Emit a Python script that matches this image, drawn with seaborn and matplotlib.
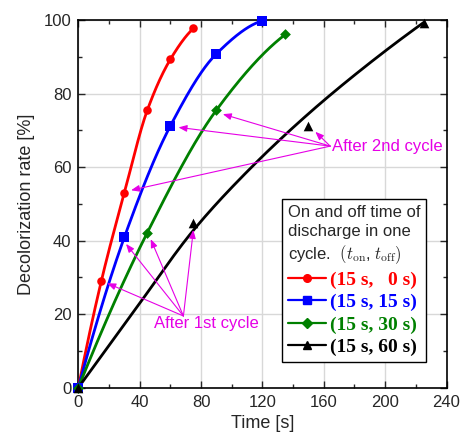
import numpy as np
import pandas as pd
import matplotlib
matplotlib.use("Agg")
import matplotlib.pyplot as plt
from matplotlib.lines import Line2D
import seaborn as sns

# ---- data ----
red_t = [0, 15, 30, 45, 60, 75]
red_y = [0, 29.0, 53.0, 75.5, 89.3, 97.7]
blue_t = [0, 30, 60, 90, 120]
blue_y = [0, 40.9, 71.2, 90.8, 99.8]
green_t = [0, 45, 90, 135]
green_y = [0, 42.2, 75.5, 96.1]
black_t = [0, 75, 150, 225]
black_y = [0, 44.7, 71.2, 99.3]
# black fitted curve
black_curve_t = [0, 37.5, 75, 112.5, 150, 187.5, 225]
black_curve_y = [0, 21.5, 42.8, 59.8, 74.5, 87.5, 99.3]

labels = ["(15 s,   0 s)", "(15 s, 15 s)", "(15 s, 30 s)", "(15 s, 60 s)"]
colors = ["#FF0000", "#0000FF", "#008000", "#000000"]
markers = ["o", "s", "D", "^"]

xticks = [0, 40, 80, 120, 160, 200, 240]
yticks = [0, 20, 40, 60, 80, 100]


def pchip(x, y, n=200):
    x = np.asarray(x, float); y = np.asarray(y, float)
    h = np.diff(x); d = np.diff(y) / h
    m = np.zeros_like(y)
    for k in range(1, len(x) - 1):
        if d[k - 1] * d[k] > 0:
            w1 = 2 * h[k] + h[k - 1]; w2 = h[k] + 2 * h[k - 1]
            m[k] = (w1 + w2) / (w1 / d[k - 1] + w2 / d[k])
    m[0] = ((2 * h[0] + h[1]) * d[0] - h[0] * d[1]) / (h[0] + h[1]) if len(x) > 2 else d[0]
    if m[0] * d[0] <= 0: m[0] = 0
    elif len(x) > 2 and abs(m[0]) > 3 * abs(d[0]): m[0] = 3 * d[0]
    m[-1] = ((2 * h[-1] + h[-2]) * d[-1] - h[-1] * d[-2]) / (h[-1] + h[-2]) if len(x) > 2 else d[-1]
    if m[-1] * d[-1] <= 0: m[-1] = 0
    elif len(x) > 2 and abs(m[-1]) > 3 * abs(d[-1]): m[-1] = 3 * d[-1]
    xs = np.linspace(x[0], x[-1], n)
    idx = np.clip(np.searchsorted(x, xs) - 1, 0, len(x) - 2)
    t = (xs - x[idx]) / h[idx]
    h00 = 2 * t**3 - 3 * t**2 + 1; h10 = t**3 - 2 * t**2 + t
    h01 = -2 * t**3 + 3 * t**2; h11 = t**3 - t**2
    ys = h00 * y[idx] + h10 * h[idx] * m[idx] + h01 * y[idx + 1] + h11 * h[idx] * m[idx + 1]
    return xs, ys


sns.set_style("ticks")
plt.rcParams["font.family"] = ["Liberation Sans", "DejaVu Sans"]
plt.rcParams["mathtext.fontset"] = "cm"

fig = plt.figure(figsize=(4.62, 4.41), dpi=100)
ax = fig.add_axes([0.1695, 0.1209, 0.797, 0.8337])

series = [
    (red_t, red_y, red_t, red_y),
    (blue_t, blue_y, blue_t, blue_y),
    (green_t, green_y, green_t, green_y),
    (black_curve_t, black_curve_y, black_t, black_y),
]
msizes = [38, 42, 30, 48]
for (ct, cy, mt, my), c, mk, lab, ms in zip(series, colors, markers, labels, msizes):
    xs, ys = pchip(ct, cy)
    sns.lineplot(x=xs, y=ys, ax=ax, color=c, lw=2.0, legend=False, sort=False, zorder=3)
    sns.scatterplot(x=mt, y=my, ax=ax, color=c, marker=mk, s=ms, linewidth=0,
                    legend=False, zorder=4, clip_on=False)

ax.set_xlim(0, 240)
ax.set_ylim(0, 100)
ax.set_xticks(xticks)
ax.set_yticks(yticks)
ax.set_xticks(np.arange(20, 240, 40), minor=True)
ax.set_yticks(np.arange(10, 100, 20), minor=True)
ax.tick_params(which="both", direction="in", top=True, right=True, labelsize=12, width=1)
ax.tick_params(which="major", length=5, pad=5)
ax.tick_params(which="minor", length=3)
ax.grid(True, which="major", color="#d8d8d8", lw=1, zorder=0)
ax.set_axisbelow(True)
for s in ax.spines.values():
    s.set_linewidth(1.2)
    s.set_color("black")
ax.set_xlabel("Time [s]", fontsize=13, labelpad=4)
ax.set_ylabel("Decolorization rate [%]", fontsize=13, labelpad=6)

# annotations
mag = "#E600E6"
arrow = dict(arrowstyle="-|>,head_length=0.5,head_width=0.2", color=mag, lw=0.8,
             shrinkA=0, shrinkB=0)
for tip in [(34.4, 53.7), (65.3, 70.8), (94.2, 74.4), (154.5, 69.6)]:
    ax.annotate("", xy=tip, xytext=(164.2, 65.7), arrowprops=arrow, zorder=5)
ax.text(165.5, 65.5, "After 2nd cycle", color=mag, fontsize=12, ha="left", va="center", zorder=5)
for tip in [(18.9, 28.4), (31.1, 39.1), (47.2, 40.4), (75.0, 42.9)]:
    ax.annotate("", xy=tip, xytext=(68.5, 19.5), arrowprops=arrow, zorder=5)
ax.text(49.4, 17.4, "After 1st cycle", color=mag, fontsize=12, ha="left", va="center", zorder=5)

handles = [Line2D([], [], color=c, marker=mk, lw=1.6, markersize=5.5) for c, mk in zip(colors, markers)]
leg = ax.legend(handles, labels,
                title="On and off time of\ndischarge in one\ncycle.  $(t_{\\mathrm{on}}$, $t_{\\mathrm{off}})$",
                title_fontproperties={"family": "Liberation Sans", "size": 12},
                prop={"family": "Liberation Serif", "weight": "bold", "size": 14},
                labelcolor="linecolor", alignment="left",
                loc="upper left", bbox_to_anchor=(0.5524, 0.5124), borderaxespad=0,
                frameon=True, fancybox=False, edgecolor="black", framealpha=1,
                handlelength=2.0, handletextpad=0.2, labelspacing=0.25, borderpad=0.3)
leg.get_title().set_linespacing(1.3)
leg.get_frame().set_linewidth(1.0)
leg.set_zorder(6)

fig.savefig("out.png", dpi=100)
